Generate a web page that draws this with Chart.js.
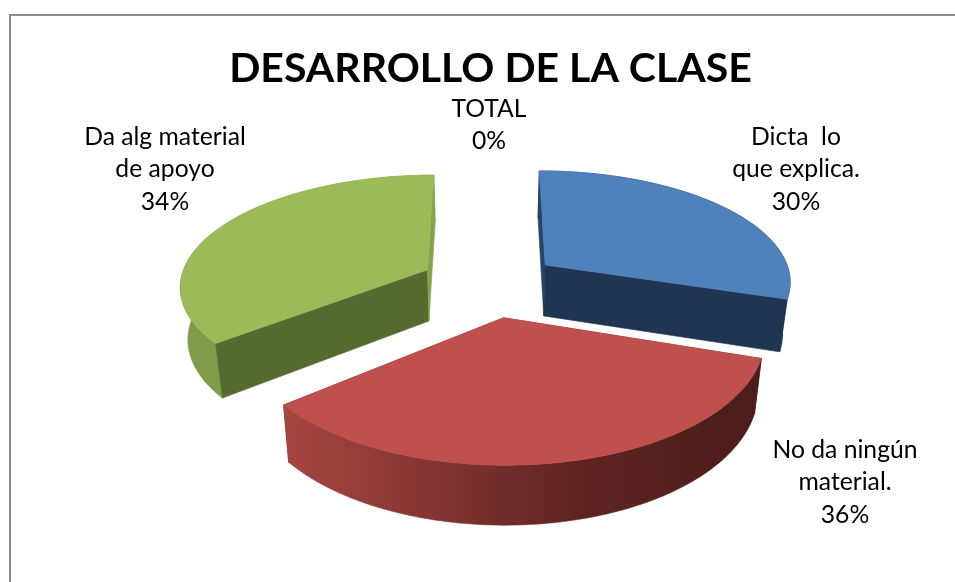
<!DOCTYPE html>
<html><head><meta charset="utf-8">
<style>html,body{margin:0;padding:0;background:#fff}#w{width:955px;height:582px}</style>
<script src="https://cdn.jsdelivr.net/npm/chart.js@4"></script></head>
<body><div id="w"><canvas id="c"></canvas></div>
<script>
const categories = ['Dicta  lo que explica.', 'No da ningún material.', 'Da alg material de apoyo', 'TOTAL'];
const percentValues = [30, 36, 34, 0];
const labelLines = [['Dicta  lo','que explica.'], ['No da ningún','material.'], ['Da alg material','de apoyo'], ['TOTAL']];
const titleText = 'DESARROLLO DE LA CLASE';

const topColors = ['#4F81BD','#C0504D','#9BBB59','#8064A2'];
const faceColors = ['#1F3552','#6b2a28','#566A30','#4a3a60'];
const edgeFaceColors = ['#264468','#6b2a28','#86A24D','#4a3a60'];
const sideStops = [
  [[0,'#1F3552'],[1,'#1F3552']],
  [[0,'#A64542'],[.25,'#8A3836'],[.62,'#5E2422'],[1,'#4A1C1A']],
  [[0,'#809B49'],[1,'#86A24E']],
  [[0,'#4a3a60'],[1,'#4a3a60']]
];
const explode = [.25,.32,.25,.25];
const shiftX = [8,6,-5,0];
const shiftY = [0,0,2,0];
const scaleU = [.975,.977,.98,1];
const scaleV = [1,1.04,1,1];
const drawOrder = [0,2,3,1];
const labelBoxes = [[796,137],[845,450],[165,137],[489,109]];

// projection of the tilted pie plane on the page
const view = {cx:487, vanishY:-540, H:821, k:.135, A:253, depthScaleX:.975, depthScaleY:1.045, depthShift:39};
function topPt(u,v,i){const w=1+view.k*v;return [view.cx+shiftX[i]+view.A*u/w, view.H/w+view.vanishY+shiftY[i]];}
function drop(p){return [view.cx+(p[0]-view.cx)*view.depthScaleX, p[1]*view.depthScaleY+view.depthShift];}
// Excel's perspective compresses the lower-left of the pie
function warp(t){
  const a=108*Math.PI/180,b=237.6*Math.PI/180,b2=231*Math.PI/180,e=2*Math.PI;
  if(t<=a)return t;
  if(t<=b)return a+(t-a)*(b2-a)/(b-a);
  return b2+(t-b)*(e-b2)/(e-b);
}
function fillPoly(ctx,pts,fill){
  ctx.beginPath();pts.forEach((p,i)=>i?ctx.lineTo(p[0],p[1]):ctx.moveTo(p[0],p[1]));ctx.closePath();
  ctx.fillStyle=fill;ctx.strokeStyle=fill;ctx.lineWidth=.6;ctx.fill();ctx.stroke();
}
function area(p){let s=0;for(let i=0;i<p.length;i++){const q=p[(i+1)%p.length];s+=p[i][0]*q[1]-q[0]*p[i][1];}return s;}
const pie3d = {
  id:'pie3d',
  beforeDraw(chart){
    const c=chart.ctx;c.save();c.fillStyle='#fff';c.fillRect(0,0,chart.width,chart.height);
    c.strokeStyle='#8C8C8C';c.lineWidth=2;c.beginPath();c.moveTo(10,582);c.lineTo(10,15);c.lineTo(955,15);c.stroke();c.restore();
  },
  beforeDatasetsDraw(chart){
    const ctx=chart.ctx,arcs=chart.getDatasetMeta(0).data;
    ctx.save();
    drawOrder.forEach(i=>{
      const arc=arcs[i];
      const t0=warp(arc.startAngle+Math.PI/2),t1=warp(arc.endAngle+Math.PI/2);
      if(t1-t0<1e-4)return;
      const mid=(arc.startAngle+arc.endAngle)/2+Math.PI/2;
      const ox=Math.sin(mid)*explode[i],oy=Math.cos(mid)*explode[i];
      const apex=topPt(ox,oy,i),n=Math.max(8,Math.ceil((t1-t0)/.012)),rim=[];
      for(let j=0;j<=n;j++){const t=t0+(t1-t0)*j/n;rim.push(topPt(ox+Math.sin(t)*scaleU[i],oy+Math.cos(t)*scaleV[i],i));}
      const xs=rim.map(p=>p[0]),x0=Math.min(...xs),x1=Math.max(...xs);
      const g=ctx.createLinearGradient(x0,0,x1,0);sideStops[i].forEach(s=>g.addColorStop(s[0],s[1]));
      const startFace=[apex,rim[0],drop(rim[0]),drop(apex)];
      const endFace=[apex,rim[n],drop(rim[n]),drop(apex)];
      const startFront=area(startFace)<0,endFront=area(endFace)>0;
      const startFill=edgeFaceColors[i];
      const endFill=i===0||i===1?faceColors[i]:(i===2?edgeFaceColors[i]:faceColors[i]);
      const startCol=i===2?faceColors[i]:startFill;
      if(!startFront)fillPoly(ctx,startFace,startCol);
      if(!endFront)fillPoly(ctx,endFace,endFill);
      fillPoly(ctx,[...rim,...rim.slice().reverse().map(drop)],g);
      if(startFront)fillPoly(ctx,startFace,startCol);
      if(endFront)fillPoly(ctx,endFace,endFill);
      fillPoly(ctx,[apex,...rim],topColors[i]);
    });
    ctx.restore();
    return false;
  },
  afterDraw(chart){
    const c=chart.ctx,lh=32.5;c.save();c.fillStyle='#000';c.font='24.7px Lato';c.textAlign='center';c.textBaseline='middle';
    const total=percentValues.reduce((a,b)=>a+b,0);
    labelLines.forEach((lines,i)=>{
      const all=[...lines,Math.round(percentValues[i]/total*100)+'%'];
      all.forEach((s,j)=>c.fillText(s,labelBoxes[i][0],labelBoxes[i][1]+j*lh));
    });
    c.restore();
  }
};
new Chart(document.getElementById('c'),{
  type:'pie',
  data:{labels:categories,datasets:[{data:percentValues,backgroundColor:topColors}]},
  options:{
    responsive:true,maintainAspectRatio:false,animation:false,
    layout:{padding:{left:26,top:14}},
    plugins:{
      legend:{display:false},tooltip:{enabled:false},
      title:{display:true,text:titleText,color:'#000',font:{family:'Lato',size:41,weight:'bold'},padding:{top:30,bottom:10}}
    }
  },
  plugins:[pie3d]
});
</script></body></html>
